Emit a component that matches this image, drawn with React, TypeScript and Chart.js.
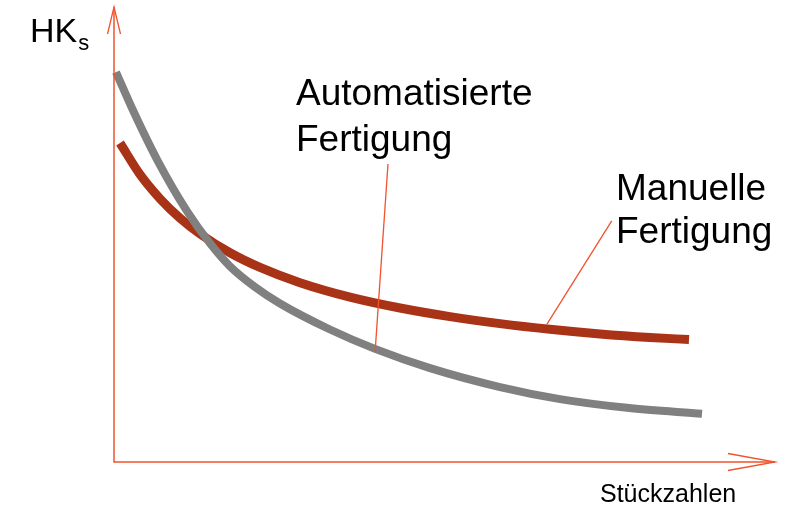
import React, { useEffect, useRef } from "react";
import { Chart, registerables } from "chart.js";

Chart.register(...registerables);

// Stückzahlen (relative units 0..100)
const autoX = [0.3, 2.87, 6.51, 11.04, 14.52, 17.55, 21.33, 25.11, 32.68, 39.49, 47.81, 58.4, 67.47, 77.61, 88.96];
// HKs automatisierte Fertigung
const autoY = [85.71, 77.3, 66.48, 55.14, 48.07, 43.01, 38.46, 34.84, 29.12, 24.86, 20.62, 16.46, 13.82, 11.91, 10.59];

const manX = [0.91, 3.93, 6.96, 9.98, 13.01, 17.55, 22.09, 28.14, 35.7, 43.27, 50.83, 58.4, 65.96, 73.53, 81.09, 86.99];
// HKs manuelle Fertigung
const manY = [70.11, 63.21, 57.87, 53.6, 50.15, 46.0, 42.77, 39.41, 36.24, 33.85, 31.96, 30.42, 29.16, 28.13, 27.36, 26.92];

const yAxisTitle = "HK";
const yAxisSub = "s";
const xAxisTitle = "Stückzahlen";
const autoLabel = ["Automatisierte", "Fertigung"];
const manLabel = ["Manuelle", "Fertigung"];

// leader lines (data units): [fromX, fromY, toX, toY]
const autoLeader = [41.45, 65.5, 39.5, 24.2];
const manLeader = [75.3, 53.0, 65.5, 30.3];

const AXIS = "#F0532D";
const FONT = "'Liberation Sans', Arial, sans-serif";

const decor = {
  id: "decor",
  afterDatasetsDraw(chart: any) {
    const { ctx, chartArea: a, scales } = chart;
    const xs = scales.x, ys = scales.y;
    ctx.save();
    // axes
    ctx.strokeStyle = AXIS;
    ctx.lineWidth = 1.5;
    ctx.beginPath();
    ctx.moveTo(a.left, a.top);
    ctx.lineTo(a.left, a.bottom);
    ctx.lineTo(a.right, a.bottom);
    ctx.stroke();
    // arrowheads
    ctx.lineWidth = 1.3;
    ctx.beginPath();
    ctx.moveTo(a.left - 6.5, a.top + 27);
    ctx.lineTo(a.left, a.top);
    ctx.lineTo(a.left + 6.5, a.top + 27);
    ctx.moveTo(a.right - 47, a.bottom - 8.5);
    ctx.lineTo(a.right, a.bottom);
    ctx.lineTo(a.right - 47, a.bottom + 8.5);
    ctx.stroke();
    // leaders
    ctx.lineWidth = 1.3;
    for (const l of [autoLeader, manLeader]) {
      ctx.beginPath();
      ctx.moveTo(xs.getPixelForValue(l[0]), ys.getPixelForValue(l[1]));
      ctx.lineTo(xs.getPixelForValue(l[2]), ys.getPixelForValue(l[3]));
      ctx.stroke();
    }
    // texts
    ctx.fillStyle = "#000";
    ctx.textBaseline = "alphabetic";
    ctx.textAlign = "left";
    ctx.font = `34px ${FONT}`;
    ctx.fillText(yAxisTitle, 30, 42);
    const w = ctx.measureText(yAxisTitle).width;
    ctx.font = `22px ${FONT}`;
    ctx.fillText(yAxisSub, 30 + w + 1, 50);
    ctx.font = `25px ${FONT}`;
    ctx.fillText(xAxisTitle, 600, 502);
    ctx.font = `37px ${FONT}`;
    ctx.fillText(autoLabel[0], 296, 105);
    ctx.fillText(autoLabel[1], 296, 151);
    ctx.fillText(manLabel[0], 616, 200);
    ctx.fillText(manLabel[1], 616, 243);
    ctx.restore();
  },
};

export default function App() {
  const ref = useRef<HTMLCanvasElement>(null);
  useEffect(() => {
    document.body.style.margin = "0";
    const chart = new Chart(ref.current!, {
      type: "line",
      data: {
        datasets: [
          {
            label: "Automatisierte Fertigung",
            data: autoX.map((x, i) => ({ x, y: autoY[i] })),
            borderColor: "#808080",
            borderWidth: 8,
            pointRadius: 0,
            cubicInterpolationMode: "monotone",
            clip: false,
          },
          {
            label: "Manuelle Fertigung",
            data: manX.map((x, i) => ({ x, y: manY[i] })),
            borderColor: "#A93317",
            borderWidth: 9,
            pointRadius: 0,
            cubicInterpolationMode: "monotone",
            clip: false,
          },
        ],
      },
      options: {
        animation: false,
        responsive: false,
        devicePixelRatio: 1,
        layout: { padding: { left: 114, right: 22, top: 7, bottom: 47 } },
        plugins: { legend: { display: false }, tooltip: { enabled: false } },
        scales: {
          x: { type: "linear", min: 0, max: 100, display: false },
          y: { type: "linear", min: 0, max: 100, display: false },
        },
      },
      plugins: [decor],
    } as any);
    return () => chart.destroy();
  }, []);
  return (
    <div style={{ position: "absolute", left: 0, top: 0, width: 797, height: 509, background: "#fff" }}>
      <canvas ref={ref} width={797} height={509} style={{ display: "block" }} />
    </div>
  );
}
